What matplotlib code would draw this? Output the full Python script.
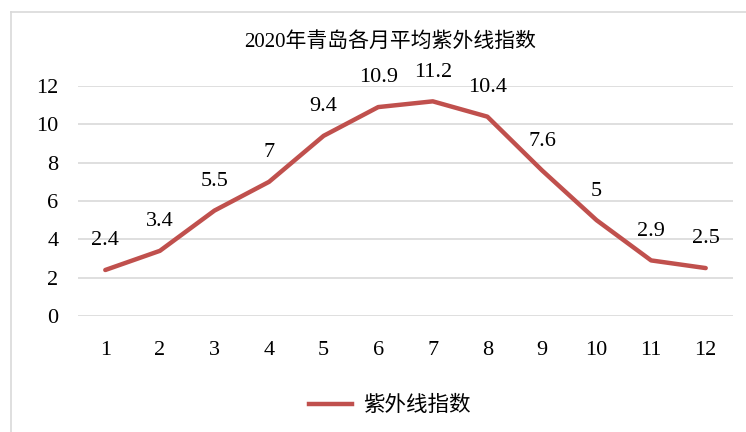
import matplotlib
matplotlib.use('Agg')
import matplotlib.pyplot as plt
from matplotlib.lines import Line2D

plt.rcParams['font.family'] = ['Liberation Serif', 'Noto Sans CJK SC']

months = [1, 2, 3, 4, 5, 6, 7, 8, 9, 10, 11, 12]
uv_index = [2.4, 3.4, 5.5, 7, 9.4, 10.9, 11.2, 10.4, 7.6, 5, 2.9, 2.5]
value_labels = ['2.4', '3.4', '5.5', '7', '9.4', '10.9', '11.2', '10.4', '7.6', '5', '2.9', '2.5']
y_ticks = [0, 2, 4, 6, 8, 10, 12]

line_color = '#C0504D'
grid_color = '#D9D9D9'

fig = plt.figure(figsize=(7.46, 4.32), dpi=100)
ax = fig.add_axes([78 / 746, 1 - 316 / 432, 655 / 746, 230 / 432])

ax.plot(months, uv_index, color=line_color, linewidth=3.2, solid_capstyle='round',
        solid_joinstyle='round', label='紫外线指数', zorder=3)

for m, v, s in zip(months, uv_index, value_labels):
    ax.annotate(s, (m, v), xytext=(0, 21), textcoords='offset points',
                ha='center', va='center', fontsize=16, color='#000000')

ax.set_xlim(0.5, 12.5)
ax.set_ylim(0, 12)
ax.set_xticks(months)
ax.set_yticks(y_ticks)
ax.tick_params(axis='both', length=0, labelsize=16)
ax.tick_params(axis='x', pad=18)
ax.tick_params(axis='y', pad=14)
ax.grid(axis='y', color=grid_color, linewidth=1.2)
ax.set_axisbelow(True)
for sp in ax.spines.values():
    sp.set_visible(False)

fig.text(390 / 746, 1 - 42 / 432, '2020年青岛各月平均紫外线指数', ha='center', va='center',
         fontsize=15)

handle = Line2D([], [], color=line_color, linewidth=3.2)
fig.legend([handle], ['紫外线指数'], loc='center', bbox_to_anchor=(390 / 746, 1 - 406 / 432),
           frameon=False, fontsize=15.5, handlelength=2.0, handletextpad=0.5)

# chart area border (left and top edges visible)
fig.add_artist(Line2D([11 / 746, 11 / 746], [0, 1 - 12 / 432], color=grid_color,
                      linewidth=1.2, transform=fig.transFigure))
fig.add_artist(Line2D([11 / 746, 1], [1 - 12 / 432, 1 - 12 / 432], color=grid_color,
                      linewidth=1.2, transform=fig.transFigure))

fig.savefig('out.png', dpi=100)
